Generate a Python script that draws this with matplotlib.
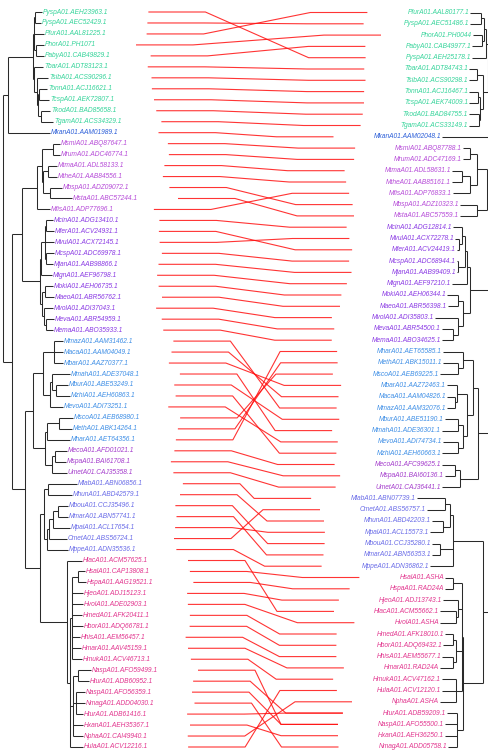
import re
import numpy as np
import matplotlib
matplotlib.use("Agg")
import matplotlib.pyplot as plt

# ---------------- data: trees as Newick (value after ':' = node depth from root) -------------
L_P = "((PyspA01.AEH23963.1:39,PyspA01.AEC52429.1:38):32,PfurA01.AAL81225.1:41,(PhorA01.PH1071:41,PabyA01.CAB49829.1:41):33):31"
L_T = "(TbarA01.ADT83123.1:40,(TsibA01.ACS90296.1:45,((TonnA01.ACJ16621.1:44,TcspA01.AEK72807.1:46):36,(TkodA01.BAD85658.1:47,TgamA01.ACS34329.1:50):38):35):34):31"
L_G1a = "((MsmiA01.ABQ87647.1:57,MrumA01.ADC46774.1:57):50,((MtmaA01.ADL58133.1:54,MtheA01.AAB84556.1:54):45,(MbspA01.ADZ09072.1:59,MstaA01.ABC57244.1:69):47):40):39"
L_G2a = "(((McinA01.ADG13410.1:50,MferA01.ACV24931.1:51):43,MvulA01.ACX72145.1:51,(McspA01.ADC69978.1:51,MjanA01.AAB98866.1:50):43):42,MignA01.AEF96798.1:49):38"
L_G2b = "((MokiA01.AEH06735.1:50,MaeoA01.ABR56762.1:51):42,(MvolA01.ADI37043.1:50,(MevaA01.ABR54959.1:51,MemaA01.ABO35933.1:50):43):41):39"
L_Msar = "((MmazA01.AAM31462.1:60,MacaA01.AAM04049.1:60,MbarA01.AAZ70377.1:60):51,((MmahA01.ADE37048.1:67,(MburA01.ABE53249.1:65,MzhiA01.AEH60863.1:67):53):49,MevoA01.ADI73251.1:60):47):40"
L_Mmeth = "((MscoA01.AEB68980.1:70,MethA01.ABK14264.1:69):56,MharA01.AET64356.1:67):44"
L_Meco = "((MecoA01.AFD01021.1:64,MspaA01.BAI61708.1:63):52,UmetA01.CAJ35358.1:64):49"
L_Mlab = "((MlabA01.ABN06856.1:74,MhunA01.ABD42579.1:69):45,((((MbouA01.CCJ35496.1:65,MmarA01.ABN57741.1:65):55,MpalA01.ACL17654.1:67):50,CmetA01.ABS56724.1:64):46,MppeA01.ADN35536.1:65):44):41"
L_H1 = "((HsalA01.CAP13808.1:82,HspaA01.AAG19521.1:83):75,HjeoA01.ADJ15123.1:80,HvolA01.ADE02903.1:80,HmedA01.AFK20411.1:79,HborA01.ADQ66781.1:80,HhisA01.AEM56457.1:77,HmarA01.AAV45159.1:78,HmukA01.ACV46713.1:79):69"
L_H2 = "((NaspA01.AFO59499.1:88,HturA01.ADB60952.1:86):75,(NaspA01.AFO56359.1:82,NmagA01.ADD04030.1:82,HturA01.ADB61416.1:80):73,HxanA01.AEH35367.1:80,NphaA01.CAI49940.1:80):70"

R_P = "(((PfurA01.AAL80177.1:30,PyspA01.AEC51486.1:30):19,(PhorA01.PH0044:27,PabyA01.CAB49977.1:28):18):16,PyspA01.AEH25178.1:28):14"
R_T = "((TbarA01.ADT84743.1:31,TsibA01.ACS90298.1:31):23,((TonnA01.ACJ16467.1:31,TcspA01.AEK74009.1:31):22,(TkodA01.BAD84755.1:31,TgamA01.ACS33149.1:31):21):20):17"
R_G1a = "((MsmiA01.ABQ87788.1:37,MrumA01.ADC47169.1:37):30,((MtmaA01.ADL58631.1:48,MtheA01.AAB85161.1:48):38,MfisA01.ADP76833.1:47):30):23"
R_G1b = "(MbspA01.ADZ10323.1:40,MstaA01.ABC57559.1:40):23"
R_G2a = "(((McinA01.ADG12814.1:47,(MvulA01.ACX72278.1:45,MferA01.ACV24419.1:43):41):38,(McspA01.ADC68944.1:43,MjanA01.AAB99409.1:43):42):35,MignA01.AEF97210.1:48):33"
R_G2b = "((MokiA01.AEH06344.1:53,MaeoA01.ABR56398.1:52):42,(MvolA01.ADI35803.1:65,(MevaA01.ABR54500.1:58,MemaA01.ABO34625.1:58):47):42):37"
R_Mmeth = "(MharA01.AET65585.1:57,(MethA01.ABK15011.1:57,MscoA01.AEB69225.1:60):42):37"
R_Msar = "((MbarA01.AAZ72463.1:53,(MacaA01.AAM04826.1:53,MmazA01.AAM32076.1:53):45):43,((MburA01.ABE51190.1:55,MmahA01.ADE36301.1:58):42,(MevoA01.ADI74734.1:57,MzhiA01.AEH60663.1:58):42):37):33"
R_Meco = "((MecoA01.AFC99625.1:58,MspaA01.BAI60136.1:55):45,UmetA01.CAJ36441.1:58):40"
R_Mlab = "(((MlabA01.ABN07739.1:83,CmetA01.ABS56757.1:73):55,(MhunA01.ABD42203.1:68,MpalA01.ACL15573.1:70):57):50,(MbouA01.CCJ35280.1:68,MmarA01.ABN56353.1:68):60,MppeA01.ADN36862.1:70):47"
R_H1 = ("((HsalA01.ASHA:55,HspaA01.RAD24A:55):47,(HjeoA01.ADJ13743.1:57,(HlacA01.ACM55662.1:60,HvolA01.ASHA:60):44):42,"
        "((HmedA01.AFK18010.1:55,HborA01.ADQ69432.1:57):47,(HhisA01.AEM55677.1:58,HmarA01.RAD24A:60):47):44,"
        "(HmukA01.ACV47162.1:58,HulaA01.ACV12120.1:58,NphaA01.ASHA:60):44):38")
R_H2 = "(HturA01.ADB59209.1:53,NaspA01.AFO55500.1:55,HxanA01.AEH36250.1:55,NmagA01.ADD05758.1:52):43"

LEFT_TREE = ("(((" + L_P + "," + L_T + "):30,MkanA01.AAM01989.1:47):5,"
             "((" + "(" + L_G1a + ",MfisA01.ADP77696.1:47):34," + "(" + L_G2a + "," + L_G2b + "):37):19,"
             "((" + L_Msar + ",(" + L_Mmeth + "," + L_Meco + "):42):30,"
             "(" + L_Mlab + ",(HlacA01.ACM57625.1:79,(" + L_H1 + "," + L_H2 + ",HulaA01.ACV12216.1:80):67):64):37):22):9):0;")
RIGHT_TREE = ("((((" + R_P + "," + R_T + "):12,MkanA01.AAM02048.1:58):6,"
              "((" + R_G1a + "," + R_G1b + "):13,(" + R_G2a + "," + R_G2b + "):30):8):3,"
              "(((" + R_Mmeth + "," + R_Msar + "):27," + R_Meco + "):22,"
              "(" + R_Mlab + ",(" + R_H1 + "," + R_H2 + "):37):17):10):0;")

# links: left leaf -> right leaf
LINKS = [
    ("PyspA01.AEH23963.1", "PyspA01.AEH25178.1"), ("PyspA01.AEC52429.1", "PyspA01.AEC51486.1"),
    ("PfurA01.AAL81225.1", "PfurA01.AAL80177.1"), ("PhorA01.PH1071", "PhorA01.PH0044"),
    ("PabyA01.CAB49829.1", "PabyA01.CAB49977.1"), ("TbarA01.ADT83123.1", "TbarA01.ADT84743.1"),
    ("TsibA01.ACS90296.1", "TsibA01.ACS90298.1"), ("TonnA01.ACJ16621.1", "TonnA01.ACJ16467.1"),
    ("TcspA01.AEK72807.1", "TcspA01.AEK74009.1"), ("TkodA01.BAD85658.1", "TkodA01.BAD84755.1"),
    ("TgamA01.ACS34329.1", "TgamA01.ACS33149.1"), ("MkanA01.AAM01989.1", "MkanA01.AAM02048.1"),
    ("MsmiA01.ABQ87647.1", "MsmiA01.ABQ87788.1"), ("MrumA01.ADC46774.1", "MrumA01.ADC47169.1"),
    ("MtmaA01.ADL58133.1", "MtmaA01.ADL58631.1"), ("MtheA01.AAB84556.1", "MtheA01.AAB85161.1"),
    ("MbspA01.ADZ09072.1", "MbspA01.ADZ10323.1"), ("MstaA01.ABC57244.1", "MstaA01.ABC57559.1"),
    ("MfisA01.ADP77696.1", "MfisA01.ADP76833.1"), ("McinA01.ADG13410.1", "McinA01.ADG12814.1"),
    ("MferA01.ACV24931.1", "MferA01.ACV24419.1"), ("MvulA01.ACX72145.1", "MvulA01.ACX72278.1"),
    ("McspA01.ADC69978.1", "McspA01.ADC68944.1"), ("MjanA01.AAB98866.1", "MjanA01.AAB99409.1"),
    ("MignA01.AEF96798.1", "MignA01.AEF97210.1"), ("MokiA01.AEH06735.1", "MokiA01.AEH06344.1"),
    ("MaeoA01.ABR56762.1", "MaeoA01.ABR56398.1"), ("MvolA01.ADI37043.1", "MvolA01.ADI35803.1"),
    ("MevaA01.ABR54959.1", "MevaA01.ABR54500.1"), ("MemaA01.ABO35933.1", "MemaA01.ABO34625.1"),
    ("MmazA01.AAM31462.1", "MmazA01.AAM32076.1"), ("MacaA01.AAM04049.1", "MacaA01.AAM04826.1"),
    ("MbarA01.AAZ70377.1", "MbarA01.AAZ72463.1"), ("MmahA01.ADE37048.1", "MmahA01.ADE36301.1"),
    ("MburA01.ABE53249.1", "MburA01.ABE51190.1"), ("MzhiA01.AEH60863.1", "MzhiA01.AEH60663.1"),
    ("MevoA01.ADI73251.1", "MevoA01.ADI74734.1"), ("MscoA01.AEB68980.1", "MscoA01.AEB69225.1"),
    ("MethA01.ABK14264.1", "MethA01.ABK15011.1"), ("MharA01.AET64356.1", "MharA01.AET65585.1"),
    ("MecoA01.AFD01021.1", "MecoA01.AFC99625.1"), ("MspaA01.BAI61708.1", "MspaA01.BAI60136.1"),
    ("UmetA01.CAJ35358.1", "UmetA01.CAJ36441.1"), ("MlabA01.ABN06856.1", "MlabA01.ABN07739.1"),
    ("MhunA01.ABD42579.1", "MhunA01.ABD42203.1"), ("MbouA01.CCJ35496.1", "MbouA01.CCJ35280.1"),
    ("MmarA01.ABN57741.1", "MmarA01.ABN56353.1"), ("MpalA01.ACL17654.1", "MpalA01.ACL15573.1"),
    ("CmetA01.ABS56724.1", "CmetA01.ABS56757.1"), ("MppeA01.ADN35536.1", "MppeA01.ADN36862.1"),
    ("HlacA01.ACM57625.1", "HlacA01.ACM55662.1"), ("HsalA01.CAP13808.1", "HsalA01.ASHA"),
    ("HspaA01.AAG19521.1", "HspaA01.RAD24A"), ("HjeoA01.ADJ15123.1", "HjeoA01.ADJ13743.1"),
    ("HvolA01.ADE02903.1", "HvolA01.ASHA"), ("HmedA01.AFK20411.1", "HmedA01.AFK18010.1"),
    ("HborA01.ADQ66781.1", "HborA01.ADQ69432.1"), ("HhisA01.AEM56457.1", "HhisA01.AEM55677.1"),
    ("HmarA01.AAV45159.1", "HmarA01.RAD24A"), ("HmukA01.ACV46713.1", "HmukA01.ACV47162.1"),
    ("NaspA01.AFO59499.1", "NaspA01.AFO55500.1"), ("HturA01.ADB60952.1", "HturA01.ADB59209.1"),
    ("NaspA01.AFO56359.1", "NaspA01.AFO55500.1"), ("NmagA01.ADD04030.1", "NmagA01.ADD05758.1"),
    ("HturA01.ADB61416.1", "HturA01.ADB59209.1"), ("HxanA01.AEH35367.1", "HxanA01.AEH36250.1"),
    ("NphaA01.CAI49940.1", "NphaA01.ASHA"), ("HulaA01.ACV12216.1", "HulaA01.ACV12120.1"),
]

GROUPS = {
    "#35d49a": ["Pysp", "Pfur", "Phor", "Paby", "Tbar", "Tsib", "Tonn", "Tcsp", "Tkod", "Tgam"],
    "#2c5fd8": ["Mkan"],
    "#b64bd8": ["Msmi", "Mrum", "Mtma", "Mthe", "Mbsp", "Msta", "Mfis"],
    "#8a3ae4": ["Mcin", "Mfer", "Mvul", "Mcsp", "Mjan", "Mign", "Moki", "Maeo", "Mvol", "Meva", "Mema"],
    "#3f8fe6": ["Mmaz", "Maca", "Mbar", "Mmah", "Mbur", "Mzhi", "Mevo", "Msco", "Meth", "Mhar"],
    "#a43ccc": ["Meco", "Mspa", "Umet"],
    "#6a6ce8": ["Mlab", "Mhun", "Mbou", "Mmar", "Mpal", "Cmet", "Mppe"],
    "#e2358e": ["Hlac", "Hsal", "Hspa", "Hjeo", "Hvol", "Hmed", "Hbor", "Hhis", "Hmar", "Hmuk",
                "Nasp", "Htur", "Nmag", "Hxan", "Npha", "Hula"],
}


def parse_newick(s):
    tokens = re.findall(r"\(|\)|,|:|;|[^(),:;\s]+", s)
    pos = 0

    def node():
        nonlocal pos
        n = {"name": None, "children": [], "depth": 0.0}
        if tokens[pos] == "(":
            pos += 1
            n["children"].append(node())
            while tokens[pos] == ",":
                pos += 1
                n["children"].append(node())
            pos += 1  # ')'
        if tokens[pos] not in ("(", ")", ",", ":", ";"):
            n["name"] = tokens[pos]
            pos += 1
        if tokens[pos] == ":":
            pos += 1
            n["depth"] = float(tokens[pos])
            pos += 1
        return n

    return node()


def leaves(n):
    if not n["children"]:
        return [n]
    out = []
    for c in n["children"]:
        out += leaves(c)
    return out


def set_y(n):
    if n["children"]:
        for c in n["children"]:
            set_y(c)
        n["y"] = 0.5 * (n["children"][0]["y"] + n["children"][-1]["y"])
    return n["y"]


def draw_tree(ax, n, xf, color="#2a2a2a", lw=0.75):
    if not n["children"]:
        return
    x = xf(n["depth"])
    ys = [c["y"] for c in n["children"]]
    ax.plot([x, x], [min(ys), max(ys)], color=color, lw=lw, solid_capstyle="butt")
    for c in n["children"]:
        ax.plot([x, xf(c["depth"])], [c["y"], c["y"]], color=color, lw=lw, solid_capstyle="butt")
        draw_tree(ax, c, xf, color, lw)


def color_of(name):
    key = name.split("A01")[0]
    for col, keys in GROUPS.items():
        if key in keys:
            return col
    return "black"


W, H = 488, 756
fig = plt.figure(figsize=(W / 100, H / 100), dpi=100)
ax = fig.add_axes([0, 0, 1, 1])
ax.set_xlim(0, W)
ax.set_ylim(H, 0)
ax.axis("off")

ltree = parse_newick(LEFT_TREE)
rtree = parse_newick(RIGHT_TREE)
lleaves = leaves(ltree)
rleaves = leaves(rtree)
for n, y in zip(lleaves, np.linspace(12, 747, len(lleaves))):
    n["y"] = y
for n, y in zip(rleaves, np.linspace(12.5, 747, len(rleaves))):
    n["y"] = y
set_y(ltree)
set_y(rtree)

xl = lambda d: 3 + d
xr = lambda d: 500 - d

draw_tree(ax, ltree, xl)
draw_tree(ax, rtree, xr)

FONT = dict(family=["Liberation Sans", "DejaVu Sans"], style="italic", size=4.8)
ltext, rtext = {}, {}
for n in lleaves:
    ltext[n["name"]] = (ax.text(xl(n["depth"]) + 1, n["y"], n["name"], ha="left", va="center",
                                color=color_of(n["name"]), **FONT), n["y"])
for n in rleaves:
    rtext[n["name"]] = (ax.text(xr(n["depth"]) - 1, n["y"], n["name"], ha="right", va="center",
                                color=color_of(n["name"]), **FONT), n["y"])

fig.canvas.draw()
rend = fig.canvas.get_renderer()
inv = ax.transData.inverted()


def extent(t):
    bb = t.get_window_extent(rend)
    (x0, _), (x1, _) = inv.transform([[bb.x0, bb.y0], [bb.x1, bb.y1]])
    return x0, x1

GAP = 40
STUB = 57
for a, b in LINKS:
    tl, yl = ltext[a]
    tr, yr = rtext[b]
    xs = extent(tl)[1] + GAP
    xe = extent(tr)[0] - GAP
    ax.plot([xs, xs + STUB, xe - STUB, xe], [yl, yl, yr, yr],
            color="#ff1010", lw=0.8, alpha=0.85, solid_capstyle="butt")

fig.savefig("out.png", dpi=100)
